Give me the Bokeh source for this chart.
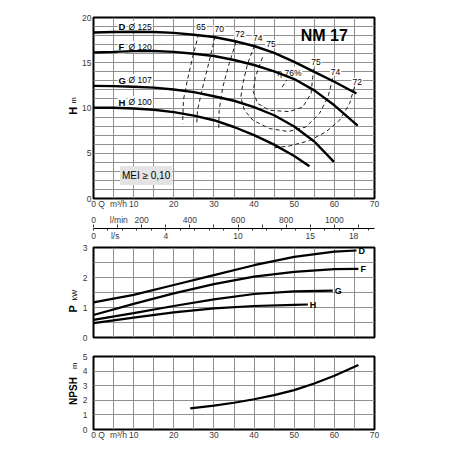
import numpy as np
from bokeh.plotting import figure
from bokeh.layouts import column, row
from bokeh.models import Range1d, LinearAxis, FixedTicker, Label
from bokeh.embed import file_html
from bokeh.resources import INLINE

FONT = "Liberation Sans"
TICK_COLOR = "#3a3a3a"
GRID_COLOR = "#8f8f8f"

# ---- Head H [m] against flow Q [m³/h], one curve per impeller ----
q_d = [0, 5, 10, 15, 20, 25, 30, 35, 40, 45, 50, 55, 60, 65.5]
h_d = [18.35, 18.4, 18.42, 18.4, 18.3, 18.1, 17.85, 17.4, 16.85, 16.1, 15.1, 14.0, 12.9, 11.6]
q_f = [0, 5, 10, 15, 20, 25, 30, 35, 40, 45, 50, 55, 60, 65.8]
h_f = [16.13, 16.2, 16.28, 16.3, 16.2, 16.0, 15.75, 15.3, 14.75, 14.05, 13.2, 11.95, 10.3, 8.05]
q_g = [0, 5, 10, 15, 20, 25, 30, 35, 40, 45, 50, 55, 59.9]
h_g = [12.45, 12.42, 12.35, 12.25, 12.05, 11.75, 11.3, 10.8, 10.1, 9.2, 7.95, 6.3, 4.05]
q_h = [0, 5, 10, 15, 20, 25, 30, 35, 40, 45, 50, 53.8]
h_h = [10.02, 10.02, 9.95, 9.8, 9.55, 9.15, 8.65, 7.9, 7.0, 5.95, 4.7, 3.57]
impellers = ["D", "F", "G", "H"]
diameters = ["Ø 125", "Ø 120", "Ø 107", "Ø 100"]

# ---- Iso-efficiency lines (Q, H) ----
eta65_q = [26.2, 24.7, 23.4, 22.4, 22.2]
eta65_h = [18.2, 15.6, 13.1, 10.9, 8.3]
eta70_q = [30.3, 28.9, 27.2, 25.9, 25.7]
eta70_h = [17.9, 15.3, 12.3, 9.75, 8.1]
eta72a_q = [35.5, 33.8, 32.2, 31.3, 31.2]
eta72a_h = [17.3, 14.9, 12.3, 9.75, 7.55]
eta72b_q = [65.0, 63.8, 61.3, 57.9, 53.8, 48.8, 45.0]
eta72b_h = [12.3, 10.5, 8.65, 7.36, 6.4, 5.8, 5.6]
eta74_q = [40.1, 38.4, 37.2, 36.7, 37.6, 39.7, 43.8, 48.5, 52.9, 56.3, 58.4, 59.6]
eta74_h = [16.9, 14.9, 12.7, 11.2, 9.75, 8.65, 7.73, 7.4, 7.9, 9.4, 11.2, 13.3]
eta75_q = [42.1, 40.3, 39.8, 40.9, 43.8, 48.8, 52.1, 54.2, 54.6, 55.0]
eta75_h = [15.6, 13.4, 11.8, 10.5, 9.75, 9.6, 10.1, 11.6, 13.4, 14.6]
eta76_q = [47.0, 48.1]
eta76_h = [12.3, 13.1]
eta_labels = ["65", "70", "72", "74", "75", "75", "74", "72", "η 76%"]
eta_label_q = [26.8, 31.3, 36.5, 40.9, 44.2, 55.4, 60.3, 65.7, 48.8]
eta_label_h = [19.0, 18.7, 18.2, 17.7, 17.1, 15.1, 14.0, 12.9, 13.9]

# ---- Power P [kW] ----
pq_d = [0, 10, 20, 30, 40, 50, 60, 65.5]
p_d = [1.17, 1.42, 1.75, 2.08, 2.41, 2.69, 2.86, 2.9]
pq_f = [0, 10, 20, 30, 40, 50, 60, 66]
p_f = [0.75, 1.12, 1.47, 1.78, 2.03, 2.19, 2.28, 2.29]
pq_g = [0, 10, 20, 30, 40, 50, 59.6]
p_g = [0.59, 0.81, 1.05, 1.27, 1.45, 1.54, 1.56]
pq_h = [0, 10, 20, 30, 40, 50, 53.4]
p_h = [0.48, 0.66, 0.84, 0.97, 1.05, 1.09, 1.1]

# ---- NPSH [m] ----
nq = [24.1, 30, 35, 40, 45, 50, 55, 60, 66]
npsh = [1.45, 1.64, 1.83, 2.07, 2.35, 2.7, 3.15, 3.68, 4.41]

# ---- Flow scale ticks and captions ----
q_ticks = [0, 10, 20, 30, 40, 50, 60, 70]
q_caption = {2: "Q", 6.2: "m³/h"}
lmin_ticks = [0, 200, 400, 600, 800, 1000]
lmin_caption = {105: "l/min"}
ls_ticks = [0, 5, 10, 15, 18]
ls_tick_text = ["0", "4", "10", "15", "18"]
ls_caption = {1.5: "l/s"}

Q_MAX = 70
STRIP_W, LEFT, RIGHT, FRAME_W = 79, 12, 80, 281


def style_axis(ax, standoff):
    ax.axis_line_color = None
    ax.major_tick_line_color = None
    ax.minor_tick_line_color = None
    ax.major_tick_out = 0
    ax.major_tick_in = 0
    ax.minor_tick_out = 0
    ax.minor_tick_in = 0
    ax.axis_label_standoff = 0
    ax.major_label_text_font = FONT
    ax.major_label_text_font_size = "8.5px"
    ax.major_label_text_color = TICK_COLOR
    ax.major_label_standoff = standoff


def panel(y_max, frame_h, top, bottom, y_ticks, y_grid, show_x, y_standoff):
    p = figure(title=None, frame_width=FRAME_W, frame_height=frame_h,
               x_range=Range1d(0, Q_MAX), y_range=Range1d(0, y_max),
               output_backend="svg", toolbar_location=None,
               min_border_left=LEFT, min_border_right=RIGHT,
               min_border_top=top, min_border_bottom=bottom,
               x_axis_location="below" if show_x else None)
    p.outline_line_color = "black"
    p.outline_line_width = 2
    p.background_fill_color = "white"
    p.border_fill_color = "white"
    p.yaxis.ticker = FixedTicker(ticks=y_ticks)
    p.ygrid.ticker = FixedTicker(ticks=y_grid)
    p.xgrid.ticker = FixedTicker(ticks=list(range(0, Q_MAX + 1, 5)))
    p.grid.grid_line_color = GRID_COLOR
    p.grid.grid_line_width = 1
    for ax in p.yaxis:
        style_axis(ax, y_standoff)
    if show_x:
        for ax in p.xaxis:
            style_axis(ax, 0)
        p.xaxis.ticker = FixedTicker(ticks=q_ticks + list(q_caption))
        p.xaxis.major_label_overrides = dict(q_caption)
    return p


def text(p, x, y, s, size="9px", bold=False, align="center", angle=0.0,
         bg=None, pad=1, level="annotation", color="black"):
    lab = Label(x=x, y=y, text=s, text_font=FONT, text_font_size=size,
                text_font_style="bold" if bold else "normal",
                text_color=color, text_align=align, text_baseline="middle",
                angle=angle, level=level)
    if bg is not None:
        lab.background_fill_color = bg
        lab.padding = pad
    p.add_layout(lab)
    return lab


# ================= Head chart =================
ph = panel(20, 181, 17, 11, [0, 5, 10, 15, 20], list(range(0, 21)), True, 2)

for qs, hs in [(eta65_q, eta65_h), (eta70_q, eta70_h), (eta72a_q, eta72a_h),
               (eta72b_q, eta72b_h), (eta74_q, eta74_h), (eta75_q, eta75_h),
               (eta76_q, eta76_h)]:
    ph.line(qs, hs, line_color="#1e1e1e", line_width=1, line_dash="4 3")

for qs, hs in [(q_d, h_d), (q_f, h_f), (q_g, h_g), (q_h, h_h)]:
    ph.line(qs, hs, line_color="black", line_width=2.4)

for name, dia, hs in zip(impellers, diameters, [h_d, h_f, h_g, h_h]):
    text(ph, 6.0, hs[0] + 0.62, name, size="9.5px", bold=True, align="left",
         bg="white", level="underlay")
    text(ph, 8.5, hs[0] + 0.62, dia, size="8.5px", align="left",
         bg="white", level="underlay")

for s, qv, hv in zip(eta_labels, eta_label_q, eta_label_h):
    text(ph, qv, hv, s, size="8.5px", bg="white", level="underlay")

text(ph, 57.5, 18.0, "NM 17", size="16px", bold=True)
text(ph, 13.1, 2.55, "MEI ≥ 0,10", size="10px", bg="#e3e3e3", pad=(2, 4))

# ================= Flow conversion scales =================
band = figure(title=None, frame_width=FRAME_W, frame_height=1,
              x_range=Range1d(0, Q_MAX), y_range=Range1d(0, 1),
              output_backend="svg", toolbar_location=None,
              min_border_left=LEFT, min_border_right=RIGHT,
              min_border_top=12, min_border_bottom=12,
              x_axis_location=None, y_axis_location=None)
band.outline_line_color = None
band.grid.visible = False
band.extra_x_ranges = {"lmin": Range1d(0, Q_MAX / 0.06), "ls": Range1d(0, Q_MAX / 3.6)}

ax_lmin = LinearAxis(
    x_range_name="lmin",
    ticker=FixedTicker(ticks=lmin_ticks + list(lmin_caption),
                       minor_ticks=list(range(0, 1200, 100))),
    major_label_overrides=dict(lmin_caption))
band.add_layout(ax_lmin, "above")

ax_ls = LinearAxis(
    x_range_name="ls",
    ticker=FixedTicker(ticks=ls_ticks + list(ls_caption), minor_ticks=list(range(0, 20))),
    major_label_overrides={**{t: s for t, s in zip(ls_ticks, ls_tick_text)}, **ls_caption})
band.add_layout(ax_ls, "below")

for ax in (ax_lmin, ax_ls):
    style_axis(ax, 0)
    ax.minor_tick_line_color = "#333333"
ax_lmin.minor_tick_out = 3
ax_ls.minor_tick_out = 2
ax_ls.axis_line_color = "black"
ax_ls.axis_line_width = 1

# ================= Power chart =================
pp = panel(3, 90, 4, 8, [0, 1, 2, 3], list(np.arange(0, 3.01, 0.5)), False, 6)
for qs, ps, name in [(pq_d, p_d, "D"), (pq_f, p_f, "F"), (pq_g, p_g, "G"), (pq_h, p_h, "H")]:
    pp.line(qs, ps, line_color="black", line_width=2.2)
    text(pp, qs[-1] + 0.5, ps[-1], name, size="9px", bold=True, align="left")

# ================= NPSH chart =================
pn = panel(5, 73, 11, 22, [0, 1, 2, 3, 4, 5], [0, 1, 2, 3, 4, 5], True, 6)
pn.line(nq, npsh, line_color="black", line_width=2.2)

# ================= Rotated quantity names beside the charts =================
strip = figure(title=None, width=STRIP_W, height=452, x_range=Range1d(0, STRIP_W),
               y_range=Range1d(452, 0), min_border=0,
               output_backend="svg", toolbar_location=None,
               x_axis_location=None, y_axis_location=None)
strip.outline_line_color = None
strip.grid.visible = False
up = np.pi / 2
text(strip, 72.2, 110.3, "H", size="11px", bold=True, angle=up)
text(strip, 72.8, 100.0, "m", size="7.5px", angle=up)
text(strip, 72.2, 308.3, "P", size="11px", bold=True, angle=up)
text(strip, 74.0, 294.5, "kW", size="7.5px", angle=up)
text(strip, 72.5, 390.5, "NPSH", size="10px", bold=True, angle=up)
text(strip, 73.5, 365.5, "m", size="7.5px", angle=up)

layout = row(strip, column(ph, band, pp, pn, spacing=0), spacing=0)
open("out.html", "w").write(file_html(layout, INLINE))
